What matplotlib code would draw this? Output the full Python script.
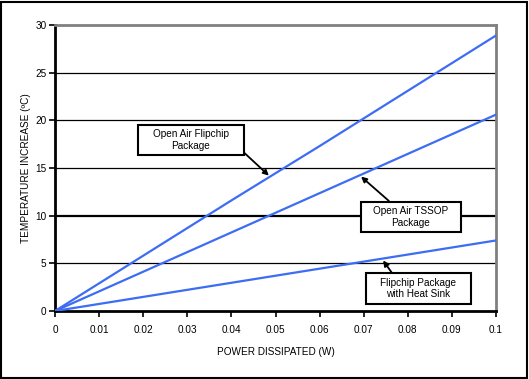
import matplotlib
matplotlib.use('Agg')
import matplotlib.pyplot as plt
from matplotlib.patches import Rectangle

plt.rcParams['font.family'] = ['Liberation Sans', 'DejaVu Sans']

# power dissipated (W) and temperature rise (C) for each package
power = [0.0, 0.01, 0.02, 0.03, 0.04, 0.05, 0.06, 0.07, 0.08, 0.09, 0.1]
flipchip_open = [0.0, 2.9, 5.8, 8.7, 11.6, 14.45, 17.3, 20.2, 23.1, 26.0, 28.9]
tssop_open = [0.0, 2.06, 4.12, 6.18, 8.24, 10.3, 12.36, 14.42, 16.48, 18.54, 20.6]
flipchip_sink = [0.0, 0.74, 1.48, 2.22, 2.96, 3.7, 4.44, 5.18, 5.92, 6.66, 7.4]

xticks = [0, 0.01, 0.02, 0.03, 0.04, 0.05, 0.06, 0.07, 0.08, 0.09, 0.1]
xtick_labels = ['0', '0.01', '0.02', '0.03', '0.04', '0.05', '0.06', '0.07', '0.08', '0.09', '0.1']
yticks = [0, 5, 10, 15, 20, 25, 30]

# label text, box centre, box size, arrow tail, arrow head (all in data units)
notes = [
    ('Open Air Flipchip\nPackage', (0.0308, 17.94), (0.0240, 3.15), (0.0429, 16.6), (0.0485, 14.2)),
    ('Open Air TSSOP\nPackage', (0.0807, 9.86), (0.0227, 3.15), (0.0757, 11.55), (0.0694, 14.1)),
    ('Flipchip Package\nwith Heat Sink', (0.0824, 2.36), (0.0238, 3.25), (0.0764, 4.0), (0.0744, 5.3)),
]

blue = '#3d6cf5'

fig = plt.figure(figsize=(5.29, 3.79), dpi=100)
fig.patch.set_facecolor('white')
ax = fig.add_axes([55 / 529, 1 - 311 / 379, 441 / 529, 286 / 379])

for y in [5, 15, 20, 25]:
    ax.axhline(y, color='black', lw=0.9, zorder=1)
ax.axhline(10, color='black', lw=1.6, zorder=1)

ax.plot(power, flipchip_open, color=blue, lw=1.6, zorder=3)
ax.plot(power, tssop_open, color=blue, lw=1.6, zorder=3)
ax.plot(power, flipchip_sink, color=blue, lw=1.6, zorder=3)

for text, centre, size, tail, head in notes:
    ax.add_patch(Rectangle((centre[0] - size[0] / 2, centre[1] - size[1] / 2), size[0], size[1],
                           fc='white', ec='black', lw=1.5, zorder=5))
    ax.text(centre[0], centre[1], text, ha='center', va='center', fontsize=7.2,
            linespacing=1.15, zorder=6)
    ax.annotate('', xy=head, xytext=tail, zorder=4,
                arrowprops=dict(arrowstyle='-|>', color='black', lw=1.3,
                                mutation_scale=8, shrinkA=0, shrinkB=0))

ax.set_xlim(0, 0.1)
ax.set_ylim(0, 30)
ax.set_xticks(xticks)
ax.set_xticklabels(xtick_labels)
ax.set_yticks(yticks)
ax.tick_params(labelsize=7.2, length=4, width=1.2, direction='out')
ax.tick_params(axis='x', pad=6)
ax.tick_params(axis='y', pad=2)

ax.spines['left'].set_linewidth(2)
ax.spines['bottom'].set_linewidth(2)
ax.spines['top'].set_color('#808080')
ax.spines['top'].set_linewidth(2)
ax.spines['right'].set_color('#808080')
ax.spines['right'].set_linewidth(2)

ax.set_xlabel('POWER DISSIPATED (W)', fontsize=7.2, labelpad=9)
ax.set_ylabel('TEMPERATURE INCREASE (ºC)', fontsize=7.2, labelpad=3)

# outer frame
fig.add_artist(Rectangle((0.002, 0.003), 0.994, 0.993, transform=fig.transFigure,
                         fill=False, ec='black', lw=1.5))

fig.savefig('out.png', dpi=100)
